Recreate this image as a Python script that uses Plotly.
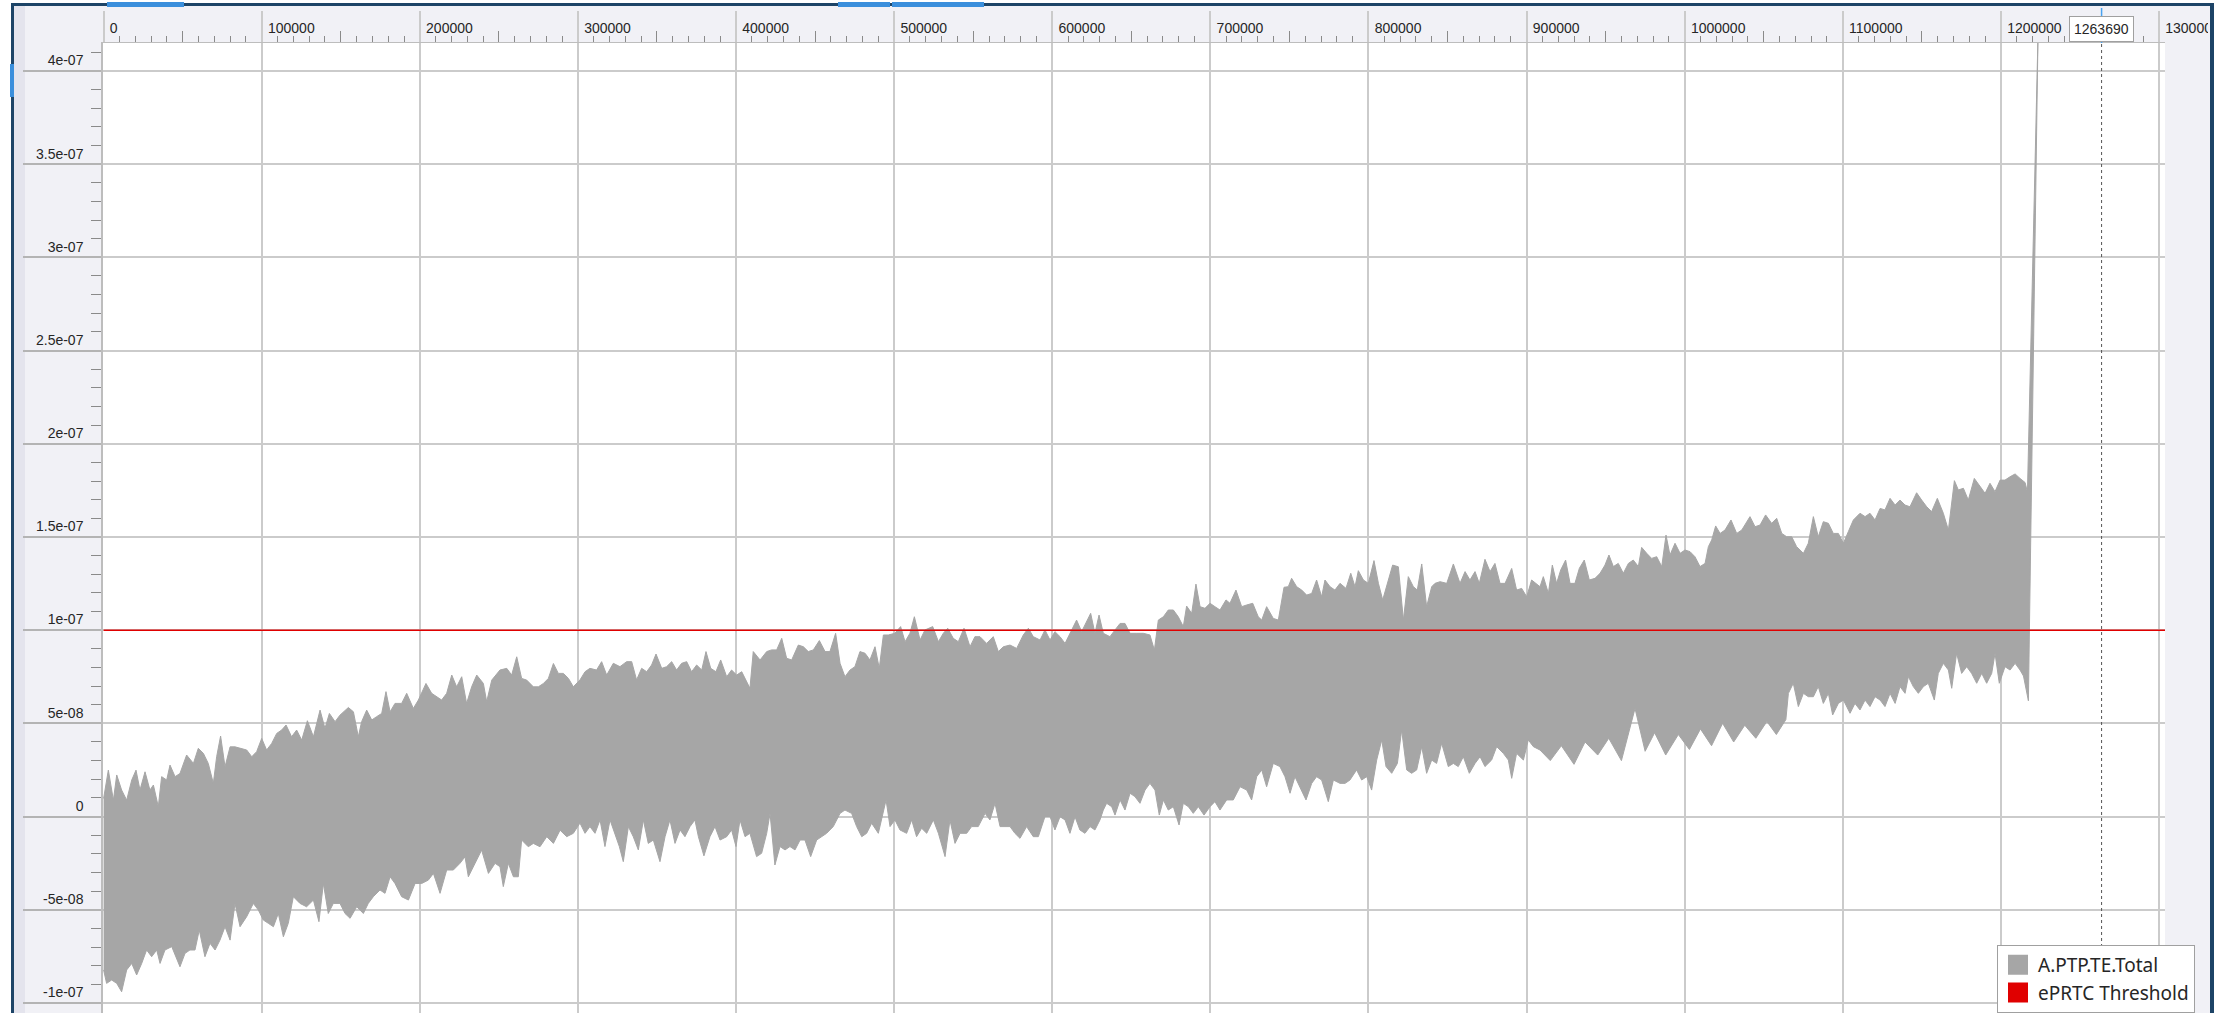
import plotly.graph_objects as go

# ---------------- data (x in thousands of units, y in nanoseconds) ----------------
UPPER_XK = [
    0, 3.0, 6.2, 8.3, 11.4, 14.6, 17.8, 20.5, 23.0, 26.2,
    29.3, 31.5, 34.6, 36.7, 39.9, 42.0, 45.2, 48.3, 52.5, 56.8,
    59.9, 63.1, 66.2, 69.4, 71.5, 74.0, 76.8, 80.0, 83.1, 86.3,
    90.5, 93.7, 96.8, 100.0, 103.1, 106.3, 109.5, 112.6, 115.4, 118.9,
    122.1, 125.3, 128.9, 132.7, 136.9, 140.0, 142.8, 146.4, 149.5, 154.8,
    158.0, 161.1, 163.2, 166.4, 169.6, 172.7, 175.9, 178.6, 181.2, 184.3,
    188.5, 191.7, 195.9, 199.1, 203.9, 207.5, 210.7, 213.8, 217.0, 220.2,
    223.3, 226.5, 229.6, 232.8, 236.0, 240.2, 242.3, 245.5, 250.7, 255.0,
    258.1, 261.3, 264.4, 267.6, 271.8, 275.0, 278.2, 281.3, 284.5, 287.6,
    290.8, 294.0, 297.1,
    301.3, 304.5, 307.6, 311.8, 315.0, 318.2, 322.4, 326.6, 330.8, 334.0,
    337.1, 340.3, 343.5, 346.6, 349.4, 353.0, 356.1, 359.3, 362.4, 365.6,
    368.8, 371.9, 375.1, 378.3, 381.0, 384.0, 387.3, 390.3, 394.1, 397.2,
    400.4, 403.6, 406.7, 408.8, 410.9, 415.2, 419.4, 422.5, 425.7, 428.9,
    432.0, 435.2, 439.4, 442.6, 445.7, 448.9, 452.7, 456.3, 459.4, 463.0,
    465.8, 468.9, 472.1, 475.2, 478.4, 481.6, 484.7, 487.9, 490.6, 493.2,
    496.3, 500.5, 504.1, 506.9, 510.0, 512.8, 516.4, 519.5, 524.4, 528.0,
    531.1, 533.9, 537.4, 540.6, 544.2, 548.0, 551.1, 554.3, 558.5, 562.7,
    565.9, 569.1, 573.3, 577.5, 581.7, 584.9, 588.0, 592.3, 595.4, 598.6,
    601.7,
    604.9, 608.1, 611.2, 615.4, 618.6, 621.3, 624.3, 627.0, 629.6, 632.3,
    636.5, 639.7, 642.9, 646.0, 649.2, 653.4, 657.6, 661.8, 664.6, 667.1,
    670.3, 673.4, 676.6, 679.7, 682.9, 685.0, 688.2, 690.9, 693.5, 696.6,
    699.8, 702.9, 706.1, 709.9, 712.4, 716.2, 719.8, 723.0, 726.8, 730.3,
    732.5, 735.6, 739.8, 743.0, 746.6, 749.3, 751.4, 754.6, 757.8, 760.9,
    764.1, 767.2, 770.4, 772.5, 775.7, 778.8, 782.0, 785.8, 788.8, 791.5,
    793.6, 796.8, 799.9, 803.5, 806.3, 809.0, 811.5, 815.3, 818.9, 822.1,
    825.2, 828.4, 830.9, 833.7, 836.8, 840.0, 842.1, 845.3, 849.5, 853.7,
    857.9, 861.1, 864.2, 867.4, 870.1, 873.7, 876.9, 880.0, 883.2, 886.4,
    890.6, 893.7, 896.9, 900.1, 903.2,
    908.5, 910.6, 913.8, 916.3, 919.0, 921.6, 924.7, 927.5, 930.6, 933.4,
    936.5, 939.7, 943.3, 946.5, 949.6, 952.1, 954.9, 958.0, 961.2, 964.4,
    967.5, 970.7, 972.8, 976.0, 979.1, 982.3, 985.5, 988.2, 990.7, 993.9,
    997.1, 1000.2, 1003.4, 1006.5, 1009.7, 1012.9, 1015.0, 1017.1, 1019.6, 1022.4,
    1025.5, 1029.3, 1032.9, 1036.1, 1041.3, 1044.5, 1047.7, 1051.2, 1055.0, 1058.2,
    1061.4, 1064.5, 1067.7, 1070.8, 1075.1, 1078.2, 1081.4, 1084.5, 1087.7, 1090.9,
    1094.0, 1097.2, 1100.4, 1103.5, 1106.7, 1110.9, 1114.1, 1117.2, 1120.4, 1123.6,
    1126.7, 1129.9, 1133.1, 1136.2, 1139.4, 1142.5, 1146.7, 1149.9, 1153.1, 1156.2,
    1159.8, 1163.6, 1166.8, 1170.6, 1173.1, 1176.3, 1179.4, 1183.2, 1186.8, 1190.0,
    1193.1, 1196.3, 1199.5, 1202.6, 1205.8, 1209.0, 1212.1, 1215.3, 1216.8,
]
UPPER_NS = [
    9.7, 24.9, 8.8, 22.3, 14.2, 8.8, 19.6, 24.9, 14.2, 24.0,
    14.2, 16.9, 5.3, 21.4, 19.6, 27.6, 21.4, 23.1, 33.0, 28.5,
    36.6, 33.9, 28.5, 17.8, 32.1, 43.2, 26.7, 37.4, 37.4, 36.6,
    35.7, 32.1, 34.8, 41.9, 35.7, 39.2, 44.6, 46.4, 49.1, 42.8,
    46.4, 41.0, 51.4, 42.8, 57.1, 47.3, 55.3, 50.9, 54.4, 58.5,
    56.2, 42.8, 50.9, 57.1, 51.8, 53.6, 55.3, 67.0, 56.2, 60.7,
    60.7, 66.1, 58.0, 62.5, 71.4, 66.1, 64.3, 62.5, 66.1, 75.9,
    69.6, 75.0, 60.7, 69.6, 75.9, 71.4, 61.6, 73.2, 78.6, 79.5,
    75.9, 85.7, 74.1, 73.2, 69.6, 69.6, 71.4, 74.1, 82.1, 76.8,
    76.8, 74.1, 69.6,
    73.3, 77.7, 79.5, 78.6, 83.1, 75.9, 82.2, 80.4, 83.1, 83.1,
    73.3, 79.5, 77.7, 81.3, 87.2, 79.5, 80.4, 83.1, 78.6, 82.2,
    83.1, 77.7, 81.3, 78.6, 88.5, 79.5, 77.7, 84.0, 75.0, 78.6,
    75.9, 77.7, 72.4, 68.8, 88.5, 84.0, 88.5, 89.4, 89.4, 95.6,
    84.9, 84.0, 92.0, 91.1, 88.5, 89.4, 94.4, 88.5, 88.5, 98.3,
    82.2, 75.0, 78.6, 80.4, 88.5, 87.6, 84.0, 91.1, 79.5, 97.4,
    97.4, 98.3, 101.9, 93.8, 98.3, 107.2, 94.7, 100.1, 101.9, 93.8,
    98.3, 101.0, 95.6, 93.8, 101.0, 91.1, 96.5, 96.5, 92.9, 96.5,
    88.5, 91.1, 92.0, 90.2, 97.4, 101.0, 96.5, 94.7, 100.1, 94.7,
    99.2,
    96.5, 92.9, 98.3, 105.4, 99.2, 103.6, 109.0, 98.3, 108.1, 98.3,
    96.5, 100.1, 103.6, 103.6, 98.3, 98.3, 98.3, 97.4, 89.3, 105.4,
    107.2, 110.8, 110.8, 107.2, 101.9, 112.9, 109.0, 124.7, 112.6, 111.7,
    114.4, 112.6, 110.8, 116.2, 114.4, 121.5, 112.6, 113.5, 114.4, 107.2,
    105.4, 112.6, 106.3, 105.4, 123.0, 123.3, 127.8, 123.3, 121.5, 118.8,
    119.7, 126.9, 117.9, 126.9, 123.3, 121.5, 125.1, 122.4, 130.5, 123.3,
    131.9, 126.9, 125.1, 137.3, 125.1, 116.2, 123.3, 134.9, 134.0, 105.4,
    128.7, 123.3, 121.5, 135.5, 112.6, 123.3, 125.1, 126.0, 125.1, 135.5,
    125.1, 131.4, 126.9, 131.4, 125.1, 138.0, 131.4, 135.8, 125.1, 125.1,
    133.1, 121.5, 122.4, 117.9, 126.9,
    123.3, 128.7, 119.8, 134.9, 125.1, 132.3, 137.6, 125.1, 125.1, 133.2,
    137.6, 126.9, 127.8, 130.5, 134.9, 140.3, 134.1, 135.8, 130.5, 135.8,
    137.6, 134.1, 144.4, 141.2, 138.5, 139.4, 134.1, 151.0, 140.3, 146.6,
    141.2, 143.0, 142.1, 139.4, 134.1, 135.8, 144.8, 148.4, 155.9, 151.9,
    153.7, 159.1, 151.9, 153.7, 160.9, 155.5, 156.4, 161.8, 157.3, 160.0,
    151.9, 150.1, 150.1, 144.8, 141.2, 146.6, 160.9, 150.1, 158.2, 157.3,
    151.9, 151.9, 146.6, 152.8, 159.1, 162.7, 160.9, 162.7, 159.1, 165.3,
    164.5, 170.7, 167.1, 169.8, 167.1, 166.2, 173.7, 169.8, 166.2, 163.6,
    170.7, 162.7, 153.7, 180.2, 175.2, 176.1, 169.8, 181.4, 177.0, 173.4,
    178.8, 174.3, 180.5, 180.5, 182.3, 183.8, 181.4, 179.2, 174.1,
]
LOWER_XK = [
    0, 1.9, 5.1, 8.3, 11.4, 14.6, 17.8, 20.9, 24.1, 27.2,
    30.4, 33.6, 35.7, 38.8, 43.1, 48.3, 51.5, 54.6, 57.8, 60.5,
    64.1, 67.3, 70.5, 73.6, 76.8, 80.0, 83.1, 86.3, 90.5, 94.7,
    97.9, 101.0, 104.2, 107.4, 110.5, 113.7, 116.8, 120.0, 124.2, 128.4,
    132.7, 136.2, 139.0, 142.1, 145.3, 149.5, 152.7, 155.9, 160.1, 164.3,
    167.4, 170.6, 174.8, 178.0, 181.2, 184.3, 188.5, 192.8, 197.0, 201.2,
    205.4, 208.6, 212.8, 217.0, 221.2, 225.4, 228.6, 230.7, 234.9, 239.1,
    243.4, 247.6, 250.7, 252.8, 256.0, 259.2, 262.3, 264.4, 268.6, 271.8,
    276.0, 280.3, 284.5, 288.7, 292.9, 297.1,
    301.3, 304.5, 307.6, 310.8, 314.0, 317.1, 320.3, 323.4, 326.2, 328.7,
    331.9, 335.0, 338.2, 341.4, 344.5, 347.7, 351.9, 355.1, 358.2, 361.4,
    364.6, 367.7, 370.9, 374.0, 376.2, 379.7, 383.5, 386.7, 389.9, 394.1,
    397.2, 400.0, 402.5, 405.7, 408.8, 413.0, 416.2, 419.4, 421.5, 424.6,
    427.8, 431.0, 434.1, 437.3, 440.5, 443.6, 447.2, 451.0, 454.2, 457.3,
    461.5, 465.8, 468.9, 473.1, 476.3, 479.5, 482.6, 485.8, 490.0, 494.9,
    497.4, 500.5, 503.7, 507.9, 511.1, 514.2, 517.4, 520.6, 524.8, 528.0,
    532.2, 535.3, 538.5, 541.7, 545.9, 549.0, 553.2, 557.5, 560.6, 563.8,
    567.0, 570.1, 573.3, 576.4, 579.6, 583.8, 588.0, 591.2, 595.4, 598.6,
    601.7,
    604.9, 608.1, 611.2, 614.4, 617.5, 620.7, 623.9, 627.0, 630.2, 632.3,
    634.4, 637.6, 639.7, 642.9, 646.0, 649.2, 652.3, 655.5, 658.7, 661.8,
    665.0, 667.7, 670.3, 673.4, 676.6, 680.2, 682.9, 686.1, 689.2, 692.4,
    696.0, 699.8, 702.9, 706.1, 710.3, 714.5, 718.8, 723.0, 726.1, 729.3,
    732.5, 735.6, 739.8, 744.0, 747.2, 750.4, 753.5, 756.7, 760.5, 764.1,
    767.2, 770.4, 774.6, 777.8, 782.0, 785.2, 788.3, 792.5, 795.7, 798.9,
    802.0, 805.2, 808.4, 811.1, 814.7, 818.3, 821.0, 824.2, 827.3, 830.5,
    833.7, 836.8, 840.0, 843.1, 846.3, 850.5, 853.7, 856.8, 860.0, 863.8,
    867.4, 870.6, 873.7, 877.9, 881.1, 885.3, 888.5, 890.6, 893.7, 898.0,
    901.1, 904.3,
    908.5, 915.0, 922.0, 930.0, 937.0, 945.0, 952.0, 960.0, 968.6, 975.0,
    981.0, 988.0, 996.0, 1003.0, 1010.0, 1017.0, 1024.0, 1031.0, 1038.0, 1045.0,
    1052.0, 1058.0, 1064.0, 1065.6, 1068.7, 1071.9, 1075.1, 1078.2, 1081.4, 1084.5,
    1087.7, 1090.9, 1093.6, 1097.2, 1100.4, 1104.6, 1107.7, 1110.9, 1114.1, 1117.2,
    1120.4, 1123.6, 1126.7, 1129.9, 1133.1, 1136.2, 1139.4, 1141.5, 1144.6, 1147.8,
    1151.0, 1154.1, 1157.9, 1160.4, 1163.6, 1166.8, 1168.9, 1172.0, 1175.2, 1178.4,
    1181.5, 1184.7, 1187.9, 1191.0, 1194.2, 1196.3, 1199.0, 1202.6, 1205.8, 1209.0,
    1212.1, 1214.3, 1217.4,
]
LOWER_NS = [
    -82.3, -89.5, -87.7, -89.5, -94.0, -82.3, -78.8, -85.0, -78.8, -71.6,
    -75.2, -71.6, -78.8, -71.6, -69.8, -80.6, -73.4, -71.6, -71.6, -60.9,
    -75.2, -68.0, -71.6, -66.3, -59.1, -66.3, -46.6, -59.1, -53.7, -46.6,
    -50.2, -55.5, -57.3, -59.1, -52.0, -64.5, -57.3, -43.0, -46.6, -48.4,
    -44.8, -56.4, -35.9, -52.0, -46.6, -46.6, -52.0, -54.6, -48.4, -52.0,
    -46.6, -43.0, -39.4, -41.2, -32.3, -35.9, -43.0, -44.8, -35.9, -35.9,
    -34.1, -30.5, -41.2, -28.7, -28.7, -25.1, -21.6, -32.3, -25.1, -18.0,
    -30.5, -25.1, -26.9, -37.6, -25.1, -32.3, -32.3, -12.6, -16.2, -14.4,
    -16.2, -10.8, -14.4, -7.3, -10.8, -9.0,
    -3.5, -9.0, -5.4, -9.0, -1.8, -16.1, -1.8, -9.0, -16.1, -24.2,
    -5.4, -10.8, -17.9, -1.8, -14.4, -12.6, -24.2, -10.8, -1.8, -14.4,
    -7.2, -10.8, -5.4, -1.8, -10.8, -21.1, -10.8, -5.4, -12.6, -10.8,
    -7.2, -16.1, -1.8, -10.8, -9.0, -21.5, -19.7, -9.0, 1.7, -26.0,
    -16.1, -17.9, -16.1, -17.9, -12.6, -12.6, -21.5, -12.6, -10.8, -9.0,
    -5.4, 1.7, 3.5, 1.7, -5.4, -10.8, -9.0, -3.6, -9.0, 8.9,
    -5.4, -1.8, -7.2, -9.0, -1.8, -10.8, -6.3, -9.0, -1.8, -9.0,
    -21.5, -1.8, -14.4, -9.0, -9.0, -5.4, -5.4, 1.7, -1.8, 7.1,
    -5.4, -5.4, -5.4, -9.0, -11.7, -5.4, -10.8, -10.8, 0.0, 0.0,
    -7.2,
    -0.1, -1.8, -9.0, -0.1, -7.2, -9.0, -5.4, -7.2, -1.8, 3.5,
    7.1, 5.3, 0.8, 8.9, 3.5, 12.5, 10.7, 7.1, 14.2, 17.8,
    14.2, 0.8, 8.9, 3.5, 5.3, -4.5, 7.1, 5.3, 1.7, 5.3,
    0.8, 5.3, 8.0, 3.5, 8.9, 8.9, 16.0, 14.2, 8.9, 21.4,
    25.0, 16.0, 28.5, 26.8, 21.4, 12.5, 21.4, 16.0, 8.9, 17.8,
    21.4, 19.6, 8.0, 19.6, 17.8, 17.8, 19.6, 25.0, 19.6, 21.4,
    14.2, 30.3, 41.1, 26.8, 23.2, 28.5, 46.4, 25.0, 23.2, 25.0,
    37.5, 23.2, 30.3, 28.5, 39.3, 26.8, 28.5, 26.8, 32.1, 23.2,
    28.5, 32.1, 26.8, 30.3, 37.5, 33.9, 30.3, 20.5, 33.9, 30.3,
    41.1, 37.5,
    35.7, 30.0, 38.0, 28.0, 40.0, 33.0, 42.0, 30.0, 58.0, 35.0,
    45.0, 33.0, 44.0, 36.0, 47.0, 38.0, 50.0, 40.0, 49.0, 42.0,
    51.0, 44.0, 52.0, 66.1, 71.5, 59.0, 66.1, 64.3, 64.3, 69.7,
    60.7, 66.1, 54.5, 60.7, 62.5, 55.4, 60.7, 57.2, 62.5, 59.0,
    64.3, 62.5, 59.0, 66.1, 60.7, 69.7, 66.1, 75.1, 69.7, 66.1,
    69.7, 71.5, 62.5, 76.8, 82.2, 78.6, 68.8, 87.6, 76.8, 80.4,
    76.8, 71.5, 76.8, 71.5, 76.8, 87.6, 71.5, 80.4, 78.6, 82.2,
    78.6, 75.4, 62.1,
]
SPIKE_XK = [1223.5]
SPIKE_NS = [420.0]

THRESHOLD_X = [0, 1303800]
THRESHOLD_Y = [1e-07, 1e-07]
CURSOR_X = 1263690

Y_TICKS = [-1e-07, -5e-08, 0, 5e-08, 1e-07, 1.5e-07, 2e-07, 2.5e-07, 3e-07, 3.5e-07, 4e-07]
Y_TICK_TEXT = ["-1e-07", "-5e-08", "0", "5e-08", "1e-07", "1.5e-07", "2e-07",
               "2.5e-07", "3e-07", "3.5e-07", "4e-07"]
SERIES_NAMES = ["A.PTP.TE.Total", "ePRTC Threshold"]

assert len(UPPER_XK) == len(UPPER_NS), (len(UPPER_XK), len(UPPER_NS))
assert len(LOWER_XK) == len(LOWER_NS), (len(LOWER_XK), len(LOWER_NS))

K = 1000.0
NSEC = 1e-9

band_x = [v * K for v in UPPER_XK] + [v * K for v in SPIKE_XK] + [v * K for v in LOWER_XK[::-1]]
band_y = [v * NSEC for v in UPPER_NS] + [v * NSEC for v in SPIKE_NS] + [v * NSEC for v in LOWER_NS[::-1]]

# ---------------- styling ----------------
W, H = 2226, 1013
ML, MR, MT, MB = 103, 61, 43, 0
PW = W - ML - MR
PH = H - MT - MB

GRAY = "#a6a6a6"
RED = "#e00000"
BAND = "#f1f1f6"
STRIP = "#e4e4ed"
BORDER = "#1d4467"
GRID = "#cbcbcb"
TXT = "#262626"
TICKFONT = dict(family="Liberation Sans, Arial, sans-serif", size=14, color=TXT)


def fx(px):
    return (px - ML) / PW


def fy(py):
    return (H - MB - py) / PH


def rect(px0, py0, px1, py1, color, layer="below"):
    return dict(type="rect", xref="paper", yref="paper",
                x0=fx(px0), x1=fx(px1), y0=fy(py1), y1=fy(py0),
                fillcolor=color, line=dict(width=0), layer=layer)


shapes = [
    rect(14, 6, 25, H, STRIP),
    rect(0, 0, 11, H, "white"),
    rect(0, 0, W, 3, "white"),
    rect(11, 3, 14, H, BORDER),
    rect(11, 3, 2214, 6, BORDER),
    rect(107, 2, 184, 7, "#3b8fdc"),
    rect(838, 2, 890, 7, "#3b8fdc"),
    rect(892, 2, 984, 7, "#3b8fdc"),
    rect(10, 64, 14, 97, "#3b8fdc"),
    # right chrome (above, so it clips the last tick label)
    rect(2208, 6, 2210, H, BAND, "above"),
    rect(2210, 3, 2214, H, BORDER, "above"),
    rect(2214, 0, W, H, "white", "above"),
    # cursor line
    dict(type="line", xref="x", yref="paper", x0=CURSOR_X, x1=CURSOR_X, y0=0, y1=1,
         line=dict(color="#555555", width=1, dash="dot"), layer="above"),
    dict(type="line", xref="x", yref="paper", x0=CURSOR_X, x1=CURSOR_X, y0=fy(43), y1=fy(8),
         line=dict(color="#4aa3f0", width=1.5), layer="above"),
]

fig = go.Figure()

fig.add_trace(go.Scatter(
    x=band_x, y=band_y, mode="lines", fill="toself", fillcolor=GRAY,
    line=dict(color=GRAY, width=1), showlegend=False, hoverinfo="skip",
))
fig.add_trace(go.Scatter(
    x=THRESHOLD_X, y=THRESHOLD_Y, mode="lines", xaxis="x2",
    line=dict(color=RED, width=1.5), showlegend=False, hoverinfo="skip",
))
for name, col in zip(SERIES_NAMES, [GRAY, RED]):
    fig.add_trace(go.Scatter(
        x=[None], y=[None], mode="markers", name=name,
        marker=dict(symbol="square", size=16, color=col, line=dict(color=col, width=4)),
    ))

XR = [-380, 1303800]

fig.update_layout(
    width=W, height=H,
    margin=dict(l=ML, r=MR, t=MT, b=MB, pad=0, autoexpand=False),
    paper_bgcolor=BAND, plot_bgcolor="white",
    shapes=shapes,
    showlegend=True,
    legend=dict(
        xref="container", yref="container",
        x=1997 / W, y=(H - 945) / H, xanchor="left", yanchor="top",
        bgcolor="white", bordercolor="#a0a0a0", borderwidth=1,
        font=dict(family="Noto Sans, Open Sans, sans-serif", size=19, color=TXT),
        tracegroupgap=0, itemsizing="trace",
    ),
    xaxis=dict(
        range=XR, side="top", anchor="y", automargin=False,
        tickmode="linear", tick0=0, dtick=100000, tickformat="d",
        ticks="outside", ticklen=31, tickwidth=1.5, tickcolor=GRID,
        showgrid=True, gridcolor=GRID, gridwidth=1.5,
        zeroline=False, showline=True, linecolor="#bdbdbd", linewidth=1,
        ticklabelposition="outside right", ticklabelstandoff=3, ticklabelshift=5,
        tickfont=TICKFONT,
        minor=dict(tickmode="linear", tick0=0, dtick=10000, ticks="outside",
                   ticklen=6, tickwidth=1, tickcolor="#8a8a8a", showgrid=False),
    ),
    xaxis2=dict(
        range=XR, overlaying="x", side="top", anchor="y", automargin=False,
        tickmode="linear", tick0=50000, dtick=100000,
        ticks="outside", ticklen=11, tickwidth=1, tickcolor="#8a8a8a",
        showticklabels=False, showgrid=False, zeroline=False, showline=False,
    ),
    yaxis=dict(
        range=[-1.054e-07, 4.150e-07], automargin=False,
        tickmode="array", tickvals=Y_TICKS, ticktext=Y_TICK_TEXT,
        ticks="outside", ticklen=78, tickwidth=1.5, tickcolor="#b4b4b4",
        showgrid=True, gridcolor=GRID, gridwidth=1.5,
        zeroline=False, showline=True, linecolor="#bdbdbd", linewidth=1.5,
        ticklabelposition="outside top", ticklabelstandoff=15, ticklabelshift=0,
        tickfont=TICKFONT,
        minor=dict(tickmode="linear", tick0=0, dtick=1e-08, ticks="outside",
                   ticklen=10, tickwidth=1, tickcolor="#8a8a8a", showgrid=False),
    ),
    annotations=[dict(
        x=CURSOR_X, xref="x", y=fy(28.5), yref="paper", text=str(CURSOR_X),
        showarrow=False, bgcolor="white", bordercolor="#a0a0a0", borderwidth=1,
        borderpad=4, font=dict(family="Liberation Sans, Arial, sans-serif", size=14, color=TXT),
        xanchor="center", yanchor="middle",
    )],
)

fig.write_html(
    "out.html",
    config={"displayModeBar": False},
    post_script="document.body.style.margin='0px';document.body.style.overflow='hidden';",
)
